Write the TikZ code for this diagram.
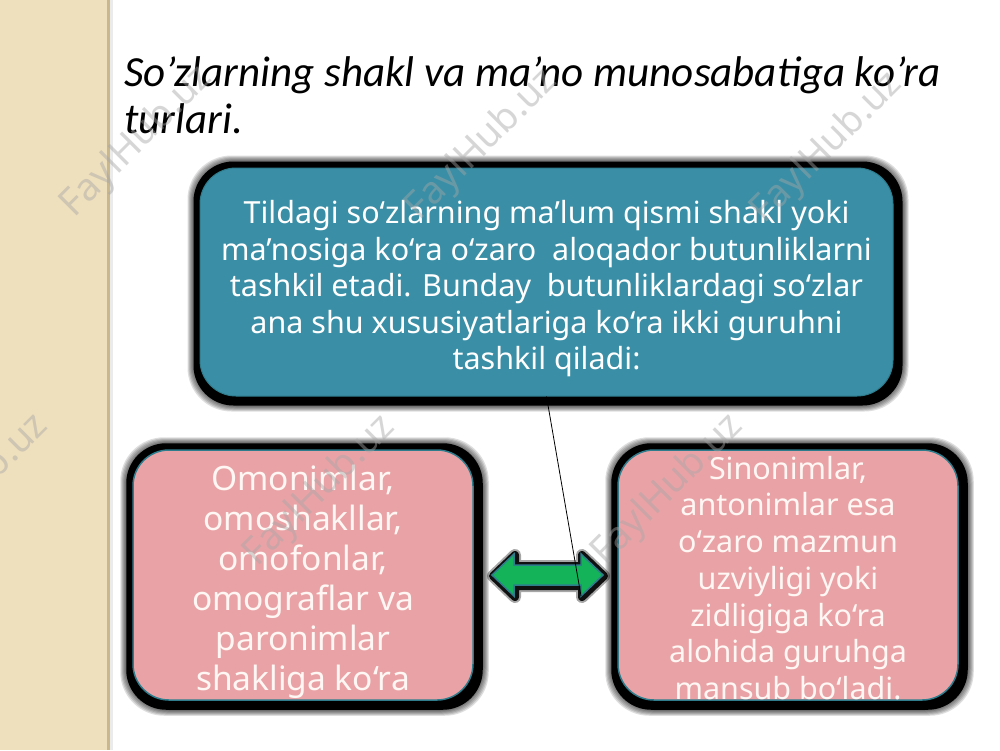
\documentclass[tikz,border=0pt]{standalone}
\usepackage{fontspec}
\setmainfont{Noto Sans}
\newfontfamily\titlefont{Carlito}
\newfontfamily\wmfont{Noto Sans}
\definecolor{tealbox}{HTML}{3A8FA6}
\definecolor{pinkbox}{HTML}{E9A3A6}
\definecolor{beigebg}{HTML}{EFE0BD}
\definecolor{stripeedge}{HTML}{C9B78E}
\definecolor{greenarrow}{HTML}{14B35A}
\definecolor{tealedge}{HTML}{2E7C8C}
\definecolor{pinktext}{HTML}{FFF7F4}
\pgfdeclarelayer{bgzero}
\pgfdeclarelayer{bgone}
\pgfsetlayers{bgzero,bgone,main}
\begin{document}
\begin{tikzpicture}[x=1pt,y=-1pt,
  topbox/.style={fill=tealbox, draw=tealedge, line width=1pt, rounded corners=36pt,
    minimum width=693pt, minimum height=228pt, inner sep=0pt, align=center,
    text=white, font=\fontsize{30.5}{36.5}\selectfont},
  pbox/.style={fill=pinkbox, draw=tealedge, line width=1.5pt, rounded corners=36pt,
    minimum width=340pt, minimum height=250pt, inner sep=0pt, align=center,
    text=pinktext},
  glowsoft/.style={fill=black, opacity=0.13, rounded corners=44pt},
  glowhard/.style={fill=black, rounded corners=40pt},
  wm/.style={font=\wmfont\bfseries\fontsize{38}{38}\selectfont, text=gray!70,
    text opacity=0.45, rotate=45, inner sep=0pt},
  link/.style={draw=black, line width=0.8pt}]
\useasboundingbox (0,0) rectangle (1000,750);
\begin{pgfonlayer}{bgzero}
  \fill[white] (0,0) rectangle (1000,750);
  \fill[beigebg] (0,0) rectangle (108,750);
  \fill[stripeedge] (107,0) rectangle (110,750);
  \fill[black, opacity=0.08] (110,0) rectangle (113,750);
\end{pgfonlayer}

% title
\node[anchor=base west, align=left, inner sep=0pt,
  font=\titlefont\itshape\fontsize{43}{47}\selectfont] (title) at (124,133)
  {So’zlarning shakl va ma’no munosabatiga ko’ra\\turlari.};

% top box
\node[topbox] (top) at (546.5,282)
  {\rule{0pt}{37pt}Tildagi so‘zlarning ma’lum qismi shakl yoki\\
   ma’nosiga ko‘ra o‘zaro\ \ aloqador butunliklarni\\
   tashkil etadi. Bunday\ \ butunliklardagi so‘zlar\\
   ana shu xususiyatlariga ko‘ra ikki guruhni\\
   tashkil qiladi:};

% left and right boxes
\node[pbox, font=\fontsize{33.5}{40}\selectfont] (left) at (303,575)
  {\rule{0pt}{40pt}Omonimlar,\\ omoshakllar,\\ omofonlar,\\ omograflar va\\ paronimlar\\ shakliga ko‘ra};
\node[pbox, font=\fontsize{30.5}{36.7}\selectfont] (right) at (788,575)
  {\rule{0pt}{29pt}Sinonimlar,\\ antonimlar esa\\ o‘zaro mazmun\\ uzviyligi yoki\\ zidligiga ko‘ra\\ alohida guruhga\\ mansub bo‘ladi.};

% glows
\begin{pgfonlayer}{bgone}
  \foreach \b in {top,left,right}{
    \foreach \e in {15,14,13,12,11,10}{
      \fill[glowsoft] ([shift={(-\e+3,-\e+3)}]\b.north west) rectangle ([shift={(\e,\e)}]\b.south east);
    }
    \fill[glowhard] ([shift={(-6,-6)}]\b.north west) rectangle ([shift={(9,9)}]\b.south east);
  }
  \draw[black, line width=12pt, line join=round, opacity=0.35]
    (493,576) -- (515,555) -- (515,566) -- (582,566) -- (582,555) -- (604,576)
    -- (582,597) -- (582,586) -- (515,586) -- (515,597) -- cycle;
  \draw[black, line width=8pt, line join=round, opacity=0.9]
    (493,576) -- (515,555) -- (515,566) -- (582,566) -- (582,555) -- (604,576)
    -- (582,597) -- (582,586) -- (515,586) -- (515,597) -- cycle;
\end{pgfonlayer}

% double arrow
\draw[fill=greenarrow, draw=tealedge, line width=1.5pt, line join=miter]
  (492,575) -- (514,554) -- (514,565) -- (581,565) -- (581,554) -- (603,575)
  -- (581,596) -- (581,585) -- (514,585) -- (514,596) -- cycle;

% connector
\coordinate (lineend) at (581,596);
\draw[link] (top.south) -- (lineend);

% watermarks
\node[wm] (wa) at (137,142) {FaylHub.uz};
\node[wm] (wb) at (482,145) {FaylHub.uz};
\node[wm] (wc) at (827,148) {FaylHub.uz};
\node[wm] (wd) at (-27,490) {FaylHub.uz};
\node[wm] (we) at (320,491) {FaylHub.uz};
\node[wm] (wf) at (668,490) {FaylHub.uz};
\end{tikzpicture}
\end{document}
